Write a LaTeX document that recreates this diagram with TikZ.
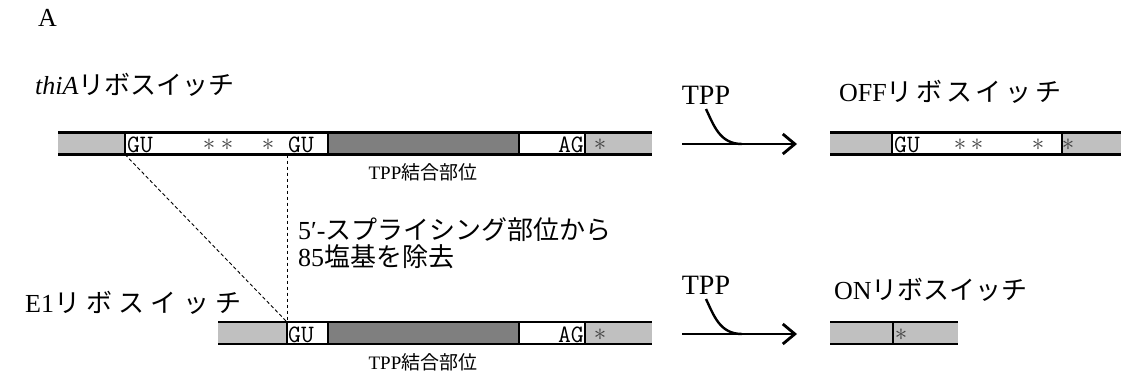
\documentclass[tikz,border=0pt]{standalone}
\usepackage{fontspec}
\setmainfont{Liberation Serif}
\newfontfamily\jp{Noto Sans CJK JP}
\newfontfamily\jpw[LetterSpace=14]{Noto Sans CJK JP}
\newfontfamily\jpww[LetterSpace=24]{Noto Sans CJK JP}
\usetikzlibrary{arrows.meta}
\definecolor{lgray}{HTML}{C0C0C0}
\definecolor{dgray}{HTML}{7F7F7F}
\definecolor{starc}{HTML}{404040}
\tikzset{
  seg/.style={inner sep=0pt, outer sep=0pt, minimum height=22pt, anchor=west},
  rail/.style={line width=2.2pt},
  divl/.style={line width=1.4pt},
  big/.style={inner sep=0pt, font=\fontsize{26}{26}\selectfont},
  tpplab/.style={inner sep=0pt, font=\fontsize{28}{28}\selectfont},
  small/.style={inner sep=0pt, font=\fontsize{19}{19}\selectfont},
  gu/.style={inner sep=0pt, font=\ttfamily\fontsize{25}{25}\selectfont},
  star/.style={inner sep=0pt, text=starc, font=\fontsize{24}{24}\selectfont},
  dline/.style={dash pattern=on 3.5pt off 2.5pt, line width=0.9pt},
  rxn/.style={line width=2.8pt, -{Straight Barb[length=12pt,width=20pt,line width=2.8pt]}},
  tppc/.style={line width=2.4pt},
}
\newcommand{\strip}[5]{\node[seg, fill=#5, minimum width=#3pt-#2pt] (#1) at (#2,#4) {};}
\begin{document}
\begin{tikzpicture}[x=1pt,y=-1pt]
\useasboundingbox (0,0) rectangle (1121,385);
% label A
\node[big, anchor=west] (labA) at (38,18) {A};
% top strand
\strip{t1}{58}{125}{143.5}{lgray}
\strip{t2}{125}{328}{143.5}{white}
\strip{t3}{328}{519}{143.5}{dgray}
\strip{t4}{519}{585}{143.5}{white}
\strip{t5}{585}{652}{143.5}{lgray}
\draw[rail] (t1.north west) -- (t5.north east);
\draw[rail] (t1.south west) -- (t5.south east);
\foreach \s in {t1,t2,t3,t4} \draw[divl] (\s.north east) -- (\s.south east);
\node[gu, anchor=west] (tgu1) at (127,145) {GU};
\node[star] (ts1) at (209,145) {$\ast$};
\node[star] (ts2) at (227,145) {$\ast$};
\node[star] (ts3) at (268,145) {$\ast$};
\node[gu, anchor=west] (tgu2) at (288,145) {GU};
\node[gu, anchor=east] (tag) at (584,145) {AG};
\node[star] (ts4) at (600,145) {$\ast$};
\node[small] (tbs) at (423,172) {TPP{\jp 結合部位}};
\node[big, anchor=west] (thiA) at (35,85) {\textit{thiA}{\jp リボスイッチ}};
% OFF strand
\strip{o1}{830}{892}{143.5}{lgray}
\strip{o2}{892}{1062}{143.5}{white}
\strip{o3}{1062}{1121}{143.5}{lgray}
\draw[rail] (o1.north west) -- (o3.north east);
\draw[rail] (o1.south west) -- (o3.south east);
\foreach \s in {o1,o2} \draw[divl] (\s.north east) -- (\s.south east);
\node[gu, anchor=west] (ogu) at (894,145) {GU};
\node[star] (os1) at (960,145) {$\ast$};
\node[star] (os2) at (977,145) {$\ast$};
\node[star] (os3) at (1038,145) {$\ast$};
\node[star] (os4) at (1068,145) {$\ast$};
\node[big, anchor=west] (offl) at (839,92) {OFF{\jpw リボスイッチ}};
% arrow 1
\coordinate (a1s) at (682,144);
\coordinate (a1e) at (797,144);
\draw[rxn] (a1s) -- (a1e);
\node[tpplab] (tpp1) at (706,95) {TPP};
\coordinate (c1) at (742,144);
\draw[tppc] (706,109) .. controls (714,126) and (720,144) .. (c1);
% bottom strand
\strip{b1}{218}{287}{333}{lgray}
\strip{b2}{287}{328}{333}{white}
\strip{b3}{328}{519}{333}{dgray}
\strip{b4}{519}{585}{333}{white}
\strip{b5}{585}{652}{333}{lgray}
\draw[rail] (b1.north west) -- (b5.north east);
\draw[rail] (b1.south west) -- (b5.south east);
\foreach \s in {b1,b2,b3,b4} \draw[divl] (\s.north east) -- (\s.south east);
\node[gu, anchor=west] (bgu) at (288,334.5) {GU};
\node[gu, anchor=east] (bag) at (584,334.5) {AG};
\node[star] (bs1) at (600,334.5) {$\ast$};
\node[small] (bbs) at (423,362) {TPP{\jp 結合部位}};
\node[big, anchor=west] (e1l) at (25,303) {E1{\jpww リボスイッチ}};
% dashed lines
\draw[dline] (t2.south west) -- (b2.north west);
\draw[dline] (t2.south west -| b2.north west) -- (b2.north west);
\node[big, anchor=west] (sp1) at (298,230) {5′-{\jp スプライシング部位から}};
\node[big, anchor=west] (sp2) at (298,257) {85{\jp 塩基を除去}};
% arrow 2
\coordinate (a2s) at (682,334);
\coordinate (a2e) at (797,334);
\draw[rxn] (a2s) -- (a2e);
\node[tpplab] (tpp2) at (706,285) {TPP};
\coordinate (c2) at (742,334);
\draw[tppc] (706,299) .. controls (714,316) and (720,334) .. (c2);
% ON strand
\strip{n1}{830}{893}{333}{lgray}
\strip{n2}{893}{958}{333}{lgray}
\draw[rail] (n1.north west) -- (n2.north east);
\draw[rail] (n1.south west) -- (n2.south east);
\draw[divl] (n1.north east) -- (n1.south east);
\node[star] (ns1) at (901,334.5) {$\ast$};
\node[big, anchor=west] (onl) at (834,290) {ON{\jp リボスイッチ}};
\end{tikzpicture}
\end{document}
